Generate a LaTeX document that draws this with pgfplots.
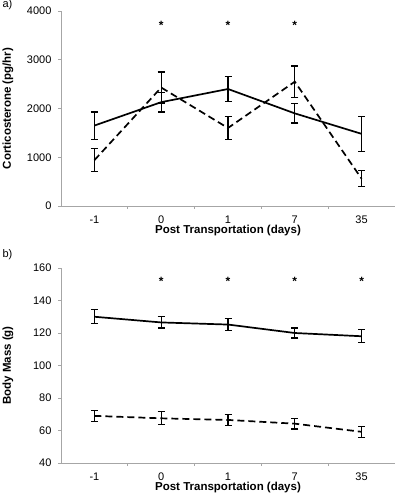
\documentclass[border=0pt]{standalone}
\usepackage{fontspec}
\setmainfont{Liberation Sans}
\usepackage{pgfplots}
\pgfplotsset{compat=1.18}
\begin{document}
\begin{tikzpicture}[x=1pt,y=1pt]
\useasboundingbox (-61,-294) rectangle (336,206);
\pgfplotsset{
  myax/.style={
    scale only axis, width=334pt, height=195pt,
    axis lines*=left,
    axis line style={gray!70, line width=0.9pt},
    xmin=-0.5, xmax=4.5,
    xtick={0,1,2,3,4},
    xticklabels={-1,0,1,7,35},
    major x tick style={draw=none},
    minor xtick={0.5,1.5,2.5,3.5},
    minor tick length=3pt,
    major tick length=3pt,
    tick align=outside,
    tick style={gray!70, line width=0.7pt},
    /pgf/number format/assume math mode=true,
    /pgf/number format/1000 sep={},
    tick label style={font=\fontsize{11}{13}\selectfont},
    xticklabel style={yshift=-3pt},
    yticklabel style={xshift=-3pt},
    every axis x label/.style={at={(axis description cs:0.5,0)}, yshift=-25pt, anchor=center, font=\fontsize{11.5}{13}\selectfont\bfseries},
    every axis y label/.style={at={(axis description cs:0,0.5)}, xshift=-53pt, rotate=90, anchor=center, font=\fontsize{11.5}{13}\selectfont\bfseries},
    xlabel={Post Transportation (days)},
    clip=false,
  },
  sol/.style={black, line width=1.7pt, mark=none,
    error bars/.cd, y dir=both, y explicit,
    error bar style={line width=1.3pt, solid},
    error mark options={rotate=90, mark size=3.5pt, line width=1.3pt, solid}},
  das/.style={black, line width=1.7pt, mark=none, dash pattern=on 7pt off 4pt,
    error bars/.cd, y dir=both, y explicit,
    error bar style={line width=1.3pt, solid},
    error mark options={rotate=90, mark size=3.5pt, line width=1.3pt, solid}},
  star/.style={draw=none, mark=none,
    nodes near coords={\textbf{*}},
    every node near coord/.append style={anchor=center, font=\fontsize{12}{13}\selectfont\bfseries}},
}
\begin{axis}[myax, ymin=0, ymax=4000, ytick={0,1000,2000,3000,4000},
  ylabel={Corticosterone (pg/hr)}]
\addplot[sol] coordinates {
  (0,1650) +- (0,280)
  (1,2130) +- (0,200)
  (2,2400) +- (0,255)
  (3,1900) +- (0,200)
  (4,1480) +- (0,360)
};
\addplot[das] coordinates {
  (0,940) +- (0,235)
  (1,2430) +- (0,320)
  (2,1600) +- (0,235)
  (3,2550) +- (0,320)
  (4,560) +- (0,165)
};
\addplot[star] coordinates {(1,3700) (2,3700) (3,3700)};
\end{axis}
\node[font=\fontsize{11}{13}\selectfont, anchor=west] at (-62,201) {a)};
\begin{axis}[myax, at={(0,-257pt)}, ymin=40, ymax=160, ytick={40,60,...,160},
  ylabel={Body Mass (g)}]
\addplot[sol] coordinates {
  (0,130) +- (0,4.3)
  (1,126.5) +- (0,3.5)
  (2,125.2) +- (0,3.7)
  (3,120) +- (0,3)
  (4,118) +- (0,4)
};
\addplot[das] coordinates {
  (0,69) +- (0,3.5)
  (1,67.5) +- (0,4)
  (2,66.5) +- (0,3.5)
  (3,64.2) +- (0,3.3)
  (4,59.2) +- (0,3.3)
};
\addplot[star] coordinates {(1,152) (2,152) (3,152) (4,152)};
\end{axis}
\node[font=\fontsize{11}{13}\selectfont, anchor=west] at (-62,-49) {b)};
\end{tikzpicture}
\end{document}
